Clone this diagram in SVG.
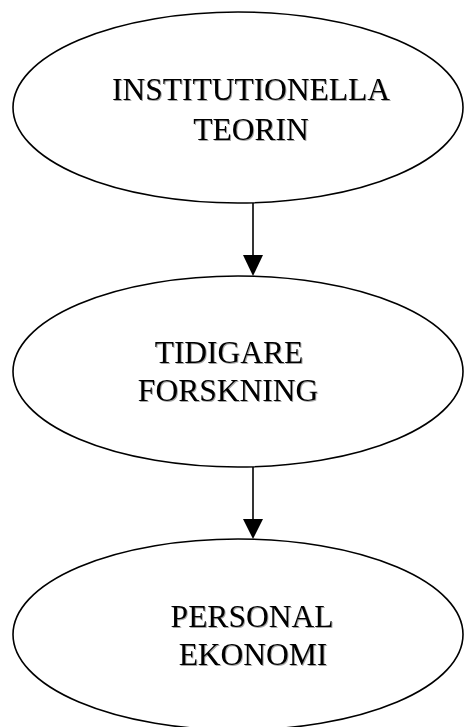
<svg xmlns="http://www.w3.org/2000/svg" width="464" height="727" viewBox="0 0 464 727">
<style>
.node ellipse{fill:#fff;stroke:#000;stroke-width:1.6}
.node text{font-family:"Liberation Serif","Times New Roman",serif;font-size:31.5px;fill:#000;text-anchor:middle;filter:url(#sh)}
.edge{stroke:#000;stroke-width:1.6;fill:none}
</style>
<defs>
<filter id="sh" x="-5%" y="-20%" width="110%" height="140%"><feDropShadow dx="1" dy="1" stdDeviation="0.6" flood-color="#000" flood-opacity="0.35"/></filter>
</defs>
<rect width="464" height="727" fill="#fff"/>
<g id="connectors">
<line class="edge" x1="253" y1="203" x2="253" y2="255"/>
<path d="M243,255 L263,255 L253,276 Z" fill="#000"/>
<line class="edge" x1="253" y1="467" x2="253" y2="519"/>
<path d="M243,519 L263,519 L253,539 Z" fill="#000"/>
</g>
<g id="node1" class="node">
<ellipse cx="238" cy="107.5" rx="225" ry="95.5"/>
<text x="251" y="100">INSTITUTIONELLA</text>
<text x="251" y="140">TEORIN</text>
</g>
<g id="node2" class="node">
<ellipse cx="238" cy="371.5" rx="225" ry="95.5"/>
<text x="229" y="363">TIDIGARE</text>
<text x="228" y="401">FORSKNING</text>
</g>
<g id="node3" class="node">
<ellipse cx="238" cy="634.5" rx="225" ry="95.5"/>
<text x="252" y="627">PERSONAL</text>
<text x="253" y="665">EKONOMI</text>
</g>
</svg>
